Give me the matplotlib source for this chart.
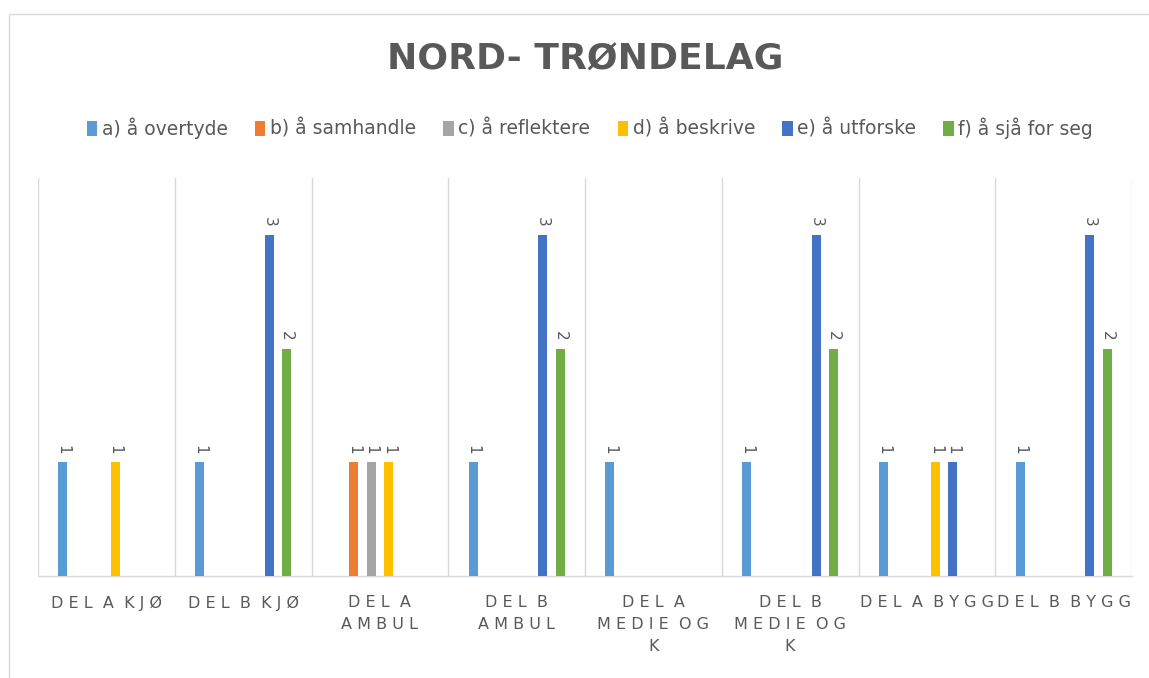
import numpy as np
import matplotlib.pyplot as plt
from matplotlib.patches import Rectangle

# Data
categories = ['Del A kjø', 'Del B kjø', 'Del A ambul', 'Del B ambul',
              'Del A medie og k', 'Del B medie og k', 'Del A bygg', 'Del B bygg']
wrapped = [['Del A kjø'], ['Del B kjø'], ['Del A', 'ambul'], ['Del B', 'ambul'],
           ['Del A', 'medie og', 'k'], ['Del B', 'medie og', 'k'],
           ['Del A bygg'], ['Del B bygg']]
series_names = ['a) å overtyde', 'b) å samhandle', 'c) å reflektere',
                'd) å beskrive', 'e) å utforske', 'f) å sjå for seg']
a_overtyde = [1, 1, 0, 1, 1, 1, 1, 1]
b_samhandle = [0, 0, 1, 0, 0, 0, 0, 0]
c_reflektere = [0, 0, 1, 0, 0, 0, 0, 0]
d_beskrive = [1, 0, 1, 0, 0, 0, 1, 0]
e_utforske = [0, 3, 0, 3, 0, 3, 1, 3]
f_sja_for_seg = [0, 2, 0, 2, 0, 2, 0, 2]
series = [a_overtyde, b_samhandle, c_reflektere, d_beskrive, e_utforske, f_sja_for_seg]
colors = ['#5B9BD5', '#ED7D31', '#A5A5A5', '#FFC000', '#4472C4', '#70AD47']

text_col = '#595959'
grid_col = '#D9D9D9'

W, H = 1149, 678
fig = plt.figure(figsize=(W / 100, H / 100), dpi=100)
ax = fig.add_axes([38 / W, 1 - 576 / H, (1132 - 38) / W, (576 - 178) / H])

x = np.arange(len(categories))
step = 0.127
width = 0.066
for j, (vals, col, name) in enumerate(zip(series, colors, series_names)):
    pos = x + (j - 2.5) * step
    ax.bar(pos, vals, width=width, color=col, label=name, zorder=3)
    for p, v in zip(pos, vals):
        if v > 0:
            ax.text(p, v + 0.07, str(v), rotation=-90, ha='center', va='bottom',
                    fontsize=11, color=text_col)

ax.set_xlim(-0.5, len(categories) - 0.5)
ax.set_ylim(0, 3.5)
for b in np.arange(-0.5, len(categories), 1.0):
    ax.axvline(b, color=grid_col, lw=1, zorder=1)

for s in ['top', 'right', 'left']:
    ax.spines[s].set_visible(False)
ax.spines['bottom'].set_color(grid_col)
ax.spines['bottom'].set_linewidth(1)
ax.set_yticks([])


def spaced(line):
    # Excel-style letter spacing for the category labels
    return '  '.join(' '.join(w.upper()) for w in line.split(' '))


labels = ['\n'.join(spaced(l) for l in lines) for lines in wrapped]
ax.set_xticks(x)
ax.set_xticklabels(labels, fontsize=11.5, color=text_col, linespacing=1.55)
ax.tick_params(axis='x', length=0, pad=14)

fig.text(585 / W, 1 - 60 / H, 'NORD- TRØNDELAG', ha='center', va='center',
         fontsize=26, fontweight='bold', color=text_col)

fig.legend(loc='center', bbox_to_anchor=(590 / W, 1 - 128 / H), ncol=6,
           frameon=False, fontsize=13.5, labelcolor=text_col,
           handlelength=0.55, handleheight=0.9, handletextpad=0.25,
           columnspacing=1.45)

fig.add_artist(Rectangle((9 / W, -0.1), 1.2, 1 - 14 / H + 0.1,
                         transform=fig.transFigure, fill=False,
                         ec=grid_col, lw=1))

fig.savefig('out.png', dpi=100)
